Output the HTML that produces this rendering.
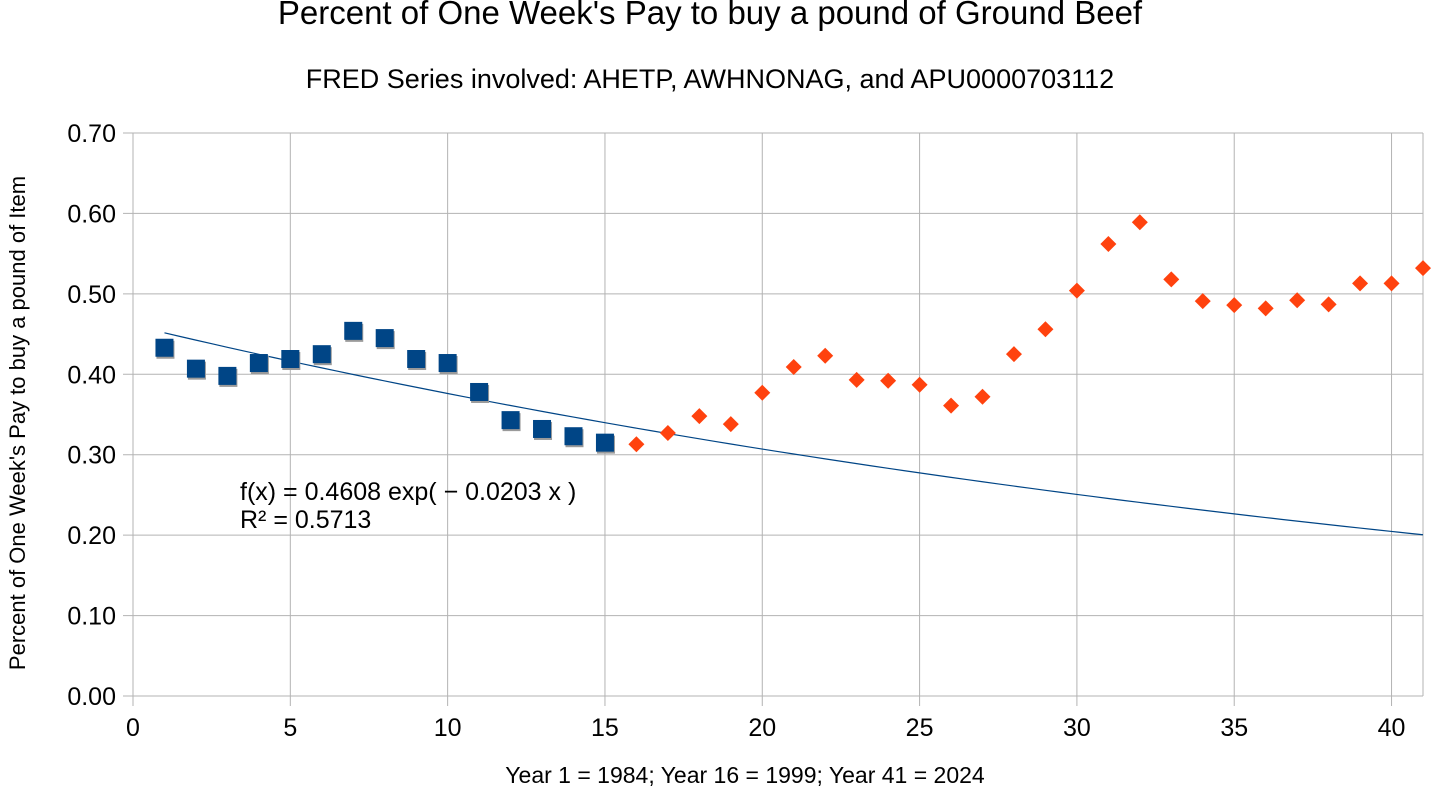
<!DOCTYPE html>
<html><head><meta charset="utf-8"><style>
body{margin:0;background:#fff;}
svg{display:block;font-family:"Liberation Sans",sans-serif;}
</style></head><body>
<svg id="chart" width="1441" height="792">
<text x="710" y="24" text-anchor="middle" font-size="33">Percent of One Week's Pay to buy a pound of Ground Beef</text>
<text x="710" y="88" text-anchor="middle" font-size="27">FRED Series involved: AHETP, AWHNONAG, and APU0000703112</text>
<text transform="translate(25,423) rotate(-90)" text-anchor="middle" font-size="22">Percent of One Week's Pay to buy a pound of Item</text>
<text x="745" y="783" text-anchor="middle" font-size="23">Year 1 = 1984; Year 16 = 1999; Year 41 = 2024</text>
<g id="grid"></g><g id="trend"></g><g id="marks"></g>
<text x="240" y="500" font-size="25">f(x) = 0.4608 exp( − 0.0203 x )</text>
<text x="240" y="528" font-size="25">R² = 0.5713</text>
</svg>
<script>
const yTicks=[0,0.1,0.2,0.3,0.4,0.5,0.6,0.7];
const xTicks=[0,5,10,15,20,25,30,35,40];
const blueX=[1,2,3,4,5,6,7,8,9,10,11,12,13,14,15];
const blueY=[0.433,0.407,0.398,0.414,0.419,0.425,0.454,0.445,0.419,0.414,0.378,0.343,0.332,0.323,0.315];
const orangeX=[16,17,18,19,20,21,22,23,24,25,26,27,28,29,30,31,32,33,34,35,36,37,38,39,40,41];
const orangeY=[0.313,0.327,0.348,0.338,0.377,0.409,0.423,0.393,0.392,0.387,0.361,0.372,0.425,0.456,0.504,0.562,0.589,0.518,0.491,0.486,0.482,0.492,0.487,0.513,0.513,0.532];
const trendA=0.4608, trendB=-0.0203;
const NS="http://www.w3.org/2000/svg";
const X=v=>133+v*(1290/41), Y=v=>696-v*(563/0.7);
function mk(t,a,p){const e=document.createElementNS(NS,t);for(const k in a)e.setAttribute(k,a[k]);p.appendChild(e);return e;}
const grid=document.getElementById('grid');
yTicks.forEach(t=>{
 const l=mk('line',{x1:123,x2:1423,y1:Y(t),y2:Y(t),stroke:'#b3b3b3','stroke-width':1},grid);
 
 
 const s=mk('text',{x:116,y:Y(t)+9,'text-anchor':'end','font-size':25},grid);s.textContent=t.toFixed(2);
 
 
});
xTicks.forEach(t=>{
 const l=mk('line',{x1:X(t),x2:X(t),y1:133,y2:706,stroke:'#b3b3b3','stroke-width':1},grid);
 
 
 const s=mk('text',{x:X(t),y:736,'text-anchor':'middle','font-size':25},grid);s.textContent=t;
 
 
});
mk('line',{x1:1423,x2:1423,y1:133,y2:696,stroke:'#b3b3b3'},grid);
const tr=document.getElementById('trend');
let d='';for(let x=1;x<=41;x+=0.5){d+=(x==1?'M':'L')+X(x)+','+Y(trendA*Math.exp(trendB*x));}
const tp=mk('path',{d:d,fill:'none',stroke:'#004586','stroke-width':1.2},tr);


const m=document.getElementById('marks');
blueX.forEach((x,i)=>{
 mk('rect',{x:X(x)-8,y:Y(blueY[i])-7,width:18,height:18,fill:'#9a9a9a'},m);
 const r=mk('rect',{x:X(x)-9,y:Y(blueY[i])-9,width:18,height:18,fill:'#004586'},m);
 
 
});
orangeX.forEach((x,i)=>{
 const cx=X(x),cy=Y(orangeY[i]);
 const p=mk('polygon',{points:`${cx},${cy-8} ${cx+8},${cy} ${cx},${cy+8} ${cx-8},${cy}`,fill:'#ff420e'},m);
 
 
});
</script>
</body></html>
